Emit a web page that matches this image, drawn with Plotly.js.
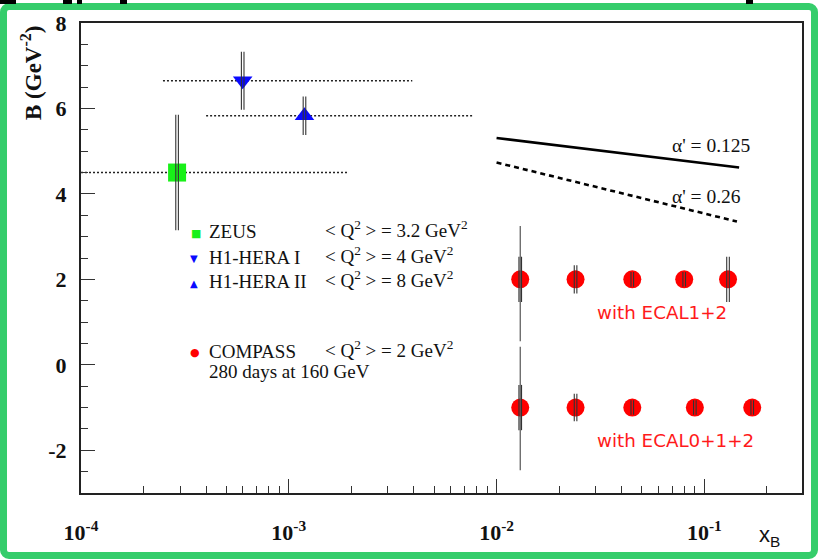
<!DOCTYPE html>
<html><head><meta charset="utf-8">
<script src="https://cdn.plot.ly/plotly-3.0.1.min.js"></script>
<style>
html,body{margin:0;padding:0;background:#fff;}
#wrap{position:relative;width:818px;height:559px;overflow:hidden;background:#fff;}
#chart{position:absolute;left:0;top:0;width:818px;height:559px;}
#frame{position:absolute;left:0;top:3px;width:818px;height:556px;box-sizing:border-box;border:7px solid #35cd6b;border-radius:9px;pointer-events:none;}
.frag{position:absolute;top:0;height:4px;background:#000;}
</style></head>
<body><div id="wrap"><div id="chart"></div><div id="frame"></div>
<div class="frag" style="left:0;width:16px"></div>
<div class="frag" style="left:63px;width:9px"></div>
<div class="frag" style="left:77px;width:5px"></div>
<div class="frag" style="left:120px;width:7px"></div>
<div class="frag" style="left:746px;width:7px"></div>
</div>
<script>
// ---- data ----
const zeusX = [2.9e-4], zeusY = [4.5], zeusErr = [1.35], zeusXmin = [1.0e-4], zeusXmax = [1.91e-3];
const h1aX = [6.0e-4], h1aY = [6.65], h1aErr = [0.68], h1aXmin = [2.48e-4], h1aXmax = [3.93e-3];
const h1bX = [1.19e-3], h1bY = [5.83], h1bErr = [0.45], h1bXmin = [4.0e-4], h1bXmax = [7.7e-3];

const comp1X = [0.013, 0.024, 0.045, 0.080, 0.13];
const comp1Y = [2, 2, 2, 2, 2];
const comp1Stat = [0.53, 0.33, 0.17, 0.17, 0.53];
const comp1TotUp = [1.25, 0, 0, 0, 0];
const comp1TotDn = [1.45, 0, 0, 0, 0];

const comp2X = [0.013, 0.024, 0.045, 0.090, 0.17];
const comp2Y = [-1, -1, -1, -1, -1];
const comp2Stat = [0.53, 0.32, 0.17, 0.17, 0.17];
const comp2TotUp = [1.42, 0, 0, 0, 0];
const comp2TotDn = [1.47, 0, 0, 0, 0];

const a125X = [0.01, 0.147], a125Y = [5.31, 4.62];
const a26X = [0.01, 0.1435], a26Y = [4.735, 3.354];

const xTickVals = [1e-4, 1e-3, 1e-2, 1e-1];
const xTickText = ['10<sup>-4</sup>', '10<sup>-3</sup>', '10<sup>-2</sup>', '10<sup>-1</sup>'];
const yTickVals = [-2, 0, 2, 4, 6, 8];
const yTickText = ['-2', '0', '2', '4', '6', '8'];
const minorX = [];
[1e-4, 1e-3, 1e-2, 1e-1].forEach(d => { for (let k = 2; k <= 9; k++) minorX.push(k * d); });

// ---- layout helpers ----
const L = 81, R = 802, T = 23, B = 493;
const px = v => (v - L) / (R - L);
const py = v => (B - v) / (B - T);
const XR = [-4, -0.53];
const dlt = 1.3 / ((R - L) / (XR[1] - XR[0]));
const serif = 'Liberation Serif, Times New Roman, serif';
const sans = 'DejaVu Sans, sans-serif';

const traces = [];
function dotted(xmin, xmax, y) {
  traces.push({x: [xmin[0], xmax[0]], y: [y[0], y[0]], mode: 'lines', xaxis: 'x', yaxis: 'y',
    line: {color: '#222', width: 1.6, dash: '2px,2px'}});
}
dotted(zeusXmin, zeusXmax, zeusY);
dotted(h1aXmin, h1aXmax, h1aY);
dotted(h1bXmin, h1bXmax, h1bY);

// markers
traces.push({x: zeusX, y: zeusY, mode: 'markers', marker: {symbol: 'square', size: 18, color: '#18f018'}});
traces.push({x: h1aX, y: h1aY, mode: 'markers', marker: {symbol: 'triangle-down', size: 17, color: '#0a0aff'}});
traces.push({x: h1bX, y: h1bY, mode: 'markers', marker: {symbol: 'triangle-up', size: 17, color: '#0a0aff'}});
traces.push({x: comp1X, y: comp1Y, mode: 'markers', marker: {symbol: 'circle', size: 18, color: '#ff0000'}});
traces.push({x: comp2X, y: comp2Y, mode: 'markers', marker: {symbol: 'circle', size: 18, color: '#ff0000'}});

// alpha' lines
traces.push({x: a125X, y: a125Y, mode: 'lines', line: {color: '#000', width: 2.6}});
traces.push({x: a26X, y: a26Y, mode: 'lines', line: {color: '#000', width: 2.6, dash: '5px,4px'}});

// total (thin) error bars for COMPASS
[[comp1X, comp1Y, comp1TotUp, comp1TotDn], [comp2X, comp2Y, comp2TotUp, comp2TotDn]].forEach(([x, y, up, dn]) => {
  traces.push({x: x, y: y, mode: 'markers', marker: {opacity: 0, size: 1},
    error_y: {type: 'data', symmetric: false, array: up, arrayminus: dn, width: 0, thickness: 1.2, color: '#555'}});
});

// double-line error bars (two shifted overlay axes)
['x2', 'x3'].forEach(ax => {
  [[zeusX, zeusY, zeusErr], [h1aX, h1aY, h1aErr], [h1bX, h1bY, h1bErr],
   [comp1X, comp1Y, comp1Stat], [comp2X, comp2Y, comp2Stat]].forEach(([x, y, e]) => {
    traces.push({x: x, y: y, xaxis: ax, yaxis: 'y', mode: 'markers', marker: {opacity: 0, size: 1},
      error_y: {type: 'data', array: e, width: 0, thickness: 1.1, color: '#333'}});
  });
});
traces.forEach(t => { t.hoverinfo = 'skip'; t.showlegend = false; });

const ann = [];
function txt(text, x, y, size, opts) {
  ann.push(Object.assign({text: text, x: px(x), y: py(y), xref: 'paper', yref: 'paper', showarrow: false,
    xanchor: 'left', yanchor: 'middle', font: {family: serif, size: size, color: '#111'}}, opts || {}));
}
// legend
txt('■', 189, 233, 11, {font: {family: sans, size: 11, color: '#18f018'}});
txt('▼', 188, 258, 10, {font: {family: sans, size: 10, color: '#0a0aff'}});
txt('▲', 188, 283, 10, {font: {family: sans, size: 10, color: '#0a0aff'}});
txt('●', 188, 352, 11, {font: {family: sans, size: 11, color: '#ff0000'}});
txt('ZEUS', 207, 231, 19);
txt('H1-HERA I', 207, 257, 19);
txt('H1-HERA II', 207, 281, 19);
txt('COMPASS', 207, 351, 19);
txt('280 days at 160 GeV', 207, 371, 19);
txt('&lt; Q<sup>2</sup> &gt; = 3.2 GeV<sup>2</sup>', 323, 229, 19);
txt('&lt; Q<sup>2</sup> &gt; = 4 GeV<sup>2</sup>', 323, 255, 19);
txt('&lt; Q<sup>2</sup> &gt; = 8 GeV<sup>2</sup>', 323, 279, 19);
txt('&lt; Q<sup>2</sup> &gt; = 2 GeV<sup>2</sup>', 323, 349, 19);
// alpha labels
txt("α' = 0.125", 670, 145, 19.5);
txt("α' = 0.26", 670, 196, 19.5);
// ECAL labels
txt('with ECAL1+2', 595, 312, 18.3, {font: {family: sans, size: 18.3, color: '#ff1a1a'}});
txt('with ECAL0+1+2', 595, 440, 18.3, {font: {family: sans, size: 18.3, color: '#ff1a1a'}});
// axis titles
txt('B (GeV<sup>-2</sup>)', 31, 73, 23, {xanchor: 'center', textangle: -90, font: {family: serif, size: 23, color: '#111', weight: 'bold'}});
txt('x<sub>B</sub>', 757, 536, 22, {font: {family: 'Liberation Sans, Arial, sans-serif', size: 22, color: '#111'}});

const baseX = {type: 'log', range: XR, tickmode: 'array', tickvals: xTickVals, ticktext: xTickText,
  ticks: 'inside', ticklen: 14, tickwidth: 1, tickcolor: '#333', showline: true, mirror: true,
  linecolor: '#222', linewidth: 2, showgrid: false, zeroline: false, ticklabelstandoff: 19,
  tickfont: {family: serif, size: 22, color: '#111', weight: 'bold'},
  minor: {tickvals: minorX, ticks: 'inside', ticklen: 7, tickwidth: 1, tickcolor: '#333', showgrid: false}};

const layout = {
  width: 818, height: 559, margin: {l: L, r: 818 - R, t: T, b: 559 - B, pad: 0},
  paper_bgcolor: '#fff', plot_bgcolor: '#fff', showlegend: false,
  xaxis: baseX,
  xaxis2: {type: 'log', range: [XR[0] + dlt, XR[1] + dlt], overlaying: 'x', visible: false},
  xaxis3: {type: 'log', range: [XR[0] - dlt, XR[1] - dlt], overlaying: 'x', visible: false},
  yaxis: {range: [-3, 8], tickmode: 'array', tickvals: yTickVals, ticktext: yTickText, ticks: 'inside', ticklen: 14, tickwidth: 1,
    tickcolor: '#333', showline: true, mirror: true, linecolor: '#222', linewidth: 2, showgrid: false,
    zeroline: false, ticklabelstandoff: 8, tickfont: {family: serif, size: 22, color: '#111', weight: 'bold'},
    minor: {tick0: 0, dtick: 0.5, ticks: 'inside', ticklen: 7, tickwidth: 1, tickcolor: '#333', showgrid: false}},
  annotations: ann
};
Plotly.newPlot('chart', traces, layout, {staticPlot: true, displayModeBar: false});
</script>
</body></html>
